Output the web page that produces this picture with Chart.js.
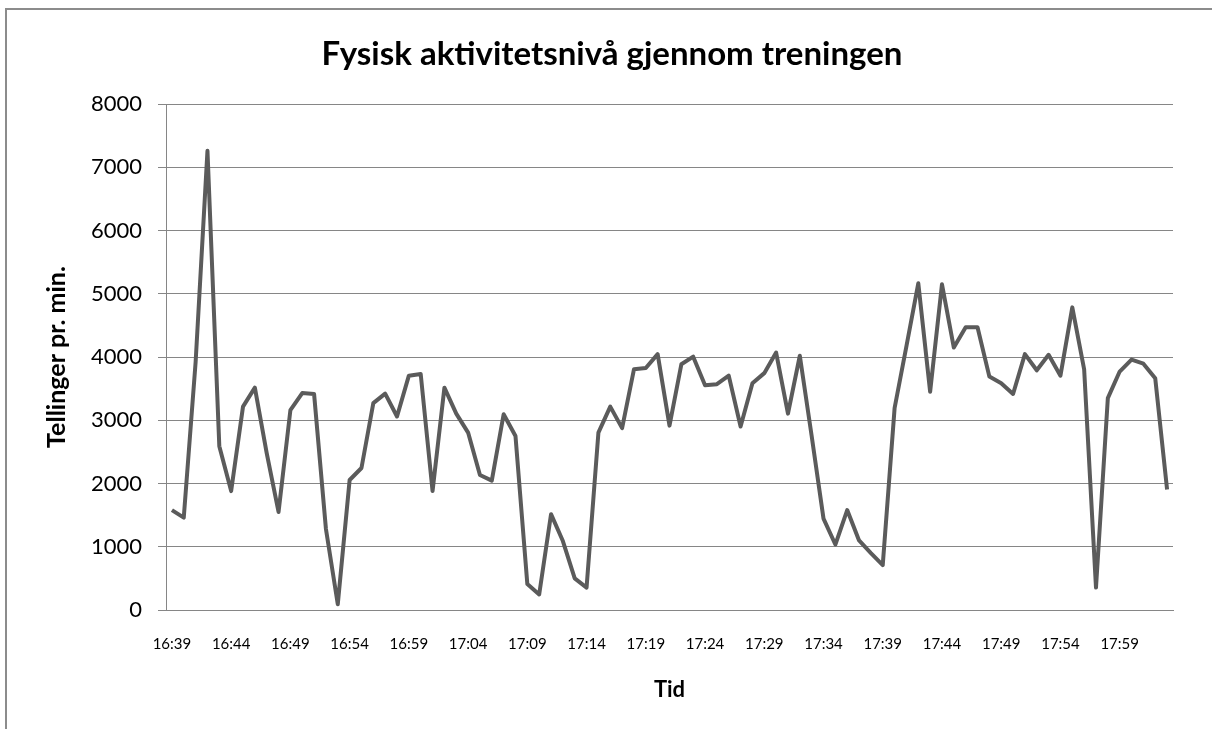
<!DOCTYPE html>
<html>
<head>
<meta charset="utf-8">
<title>Fysisk aktivitetsnivå gjennom treningen</title>
<script src="https://cdn.jsdelivr.net/npm/chart.js@4.4.1/dist/chart.umd.min.js"></script>
<style>
  html, body { margin: 0; padding: 0; background: #fff; overflow: hidden; }
  .frame {
    position: absolute; left: 5px; top: 8px; width: 1300px; height: 800px;
    border-left: 2px solid #8c8c8c; border-top: 2px solid #8c8c8c;
  }
  #chart { position: absolute; left: 0; top: 0; }
</style>
</head>
<body>
<div class="frame"></div>
<canvas id="chart" width="1212" height="729"></canvas>
<script>
// one reading per minute, starting 16:39
const startHour = 16;
const startMinute = 39;
const counts = [
  1580, 1460, 3920, 7260, 2590, 1880, 3215, 3515, 2480, 1550,
  3160, 3430, 3415, 1280, 90, 2055, 2245, 3270, 3420, 3060,
  3705, 3730, 1880, 3515, 3105, 2805, 2135, 2045, 3095, 2750,
  410, 245, 1515, 1090, 500, 355, 2805, 3215, 2875, 3805,
  3825, 4045, 2915, 3885, 4005, 3555, 3570, 3705, 2900, 3585,
  3745, 4070, 3105, 4020, 2750, 1445, 1035, 1580, 1100, 900,
  710, 3190, 4170, 5165, 3450, 5150, 4150, 4470, 4470, 3690,
  3585, 3415, 4045, 3790, 4035, 3705, 4785, 3805, 355, 3350,
  3770, 3960, 3895, 3665, 1905
];
const yTicks = [0, 1000, 2000, 3000, 4000, 5000, 6000, 7000, 8000];

const times = [];
for (let i = 0; i < counts.length; i++) {
  const total = startHour * 60 + startMinute + i;
  const h = Math.floor(total / 60);
  const m = total % 60;
  times.push(h + ':' + (m < 10 ? '0' + m : m));
}

Chart.defaults.font.family = 'Lato, "Liberation Sans", sans-serif';
Chart.defaults.color = '#000';

const ctx = document.getElementById('chart').getContext('2d');
new Chart(ctx, {
  type: 'line',
  data: {
    labels: times,
    datasets: [{
      label: 'Tellinger pr. min.',
      data: counts,
      borderColor: '#5b5b5b',
      borderWidth: 4,
      borderJoinStyle: 'round',
      pointRadius: 0,
      tension: 0,
      fill: false
    }]
  },
  options: {
    responsive: false,
    animation: false,
    devicePixelRatio: 1,
    layout: { padding: { left: 51, right: 39, top: 0, bottom: 0 } },
    plugins: {
      legend: { display: false },
      tooltip: { enabled: false },
      title: {
        display: true,
        text: 'Fysisk aktivitetsnivå gjennom treningen',
        color: '#000',
        font: { size: 33, weight: 'bold' },
        padding: { top: 35, bottom: 29.4 }
      }
    },
    scales: {
      x: {
        offset: true,
        afterFit: function(scale) { scale.height = 119; },
        grid: { display: false, drawTicks: false },
        border: { display: true, color: '#868686', width: 1 },
        ticks: {
          autoSkip: false,
          maxRotation: 0,
          minRotation: 0,
          padding: 25,
          color: '#000',
          font: { size: 15 },
          callback: function(v, i) { return i % 5 === 0 ? times[i] : ''; }
        },
        title: {
          display: true,
          text: 'Tid',
          color: '#000',
          font: { size: 22, weight: 'bold' },
          padding: { top: 0, bottom: 25.8 }
        }
      },
      y: {
        min: yTicks[0],
        max: yTicks[yTicks.length - 1],
        afterFit: function(scale) { scale.width = 115; },
        afterBuildTicks: function(scale) { scale.ticks = yTicks.map(v => ({ value: v })); },
        grid: { color: '#868686', lineWidth: 1, tickLength: 8 },
        border: { color: '#868686', width: 1 },
        ticks: {
          padding: 16,
          color: '#000',
          font: { size: 22 },
          callback: function(v) { return String(v); }
        },
        title: {
          display: true,
          text: 'Tellinger pr. min.',
          color: '#000',
          font: { size: 25, weight: 'bold', lineHeight: 0.5 },
          padding: { top: 0, bottom: 0 }
        }
      }
    }
  }
});
</script>
</body>
</html>
